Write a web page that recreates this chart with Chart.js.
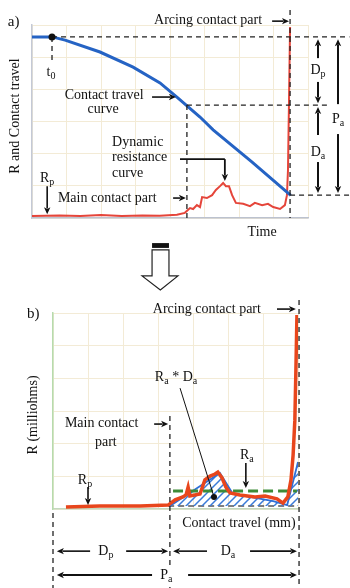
<!DOCTYPE html>
<html>
<head>
<meta charset="utf-8">
<script src="https://cdn.jsdelivr.net/npm/chart.js@4.4.1/dist/chart.umd.min.js"></script>
<style>
  html, body { margin: 0; padding: 0; background: #fff; }
  #a { position: absolute; left: 0; top: 0; }
  #b { position: absolute; left: 0; top: 292px; }
</style>
</head>
<body>
<canvas id="a" width="350" height="292"></canvas>
<canvas id="b" width="350" height="296"></canvas>
<script>
// (a) contact travel and dynamic resistance against time (arbitrary units)
var travelTime  = [0, 0.58, 0.96, 1.97, 2.93, 3.71, 4.20, 4.87, 5.25, 6.38, 7.50];
var travelValue = [5.63, 5.63, 5.53, 5.16, 4.69, 4.20, 3.76, 3.14, 2.74, 1.74, 0.70];
var resTime  = [0, 0.8, 1.4, 2.0, 2.6, 3.2, 3.7, 4.2, 4.43, 4.58, 4.67, 4.78, 4.87, 4.93, 5.07, 5.22, 5.33, 5.45,
                5.54, 5.62, 5.71, 5.80, 5.91, 6.12, 6.32, 6.46, 6.67, 6.84, 6.99, 7.19, 7.33, 7.39, 7.42, 7.45, 7.48];
var resValue = [0.06, 0.08, 0.06, 0.09, 0.06, 0.08, 0.07, 0.10, 0.16, 0.31, 0.28, 0.40, 0.34, 0.65, 0.62, 0.71, 0.87, 0.99,
                1.09, 0.99, 0.99, 0.71, 0.47, 0.44, 0.37, 0.47, 0.40, 0.44, 0.34, 0.28, 0.40, 0.71, 1.49, 3.67, 5.94];
// key instants / levels of (a)
var t0Time = 0.58, travelStart = 5.63;
var mainTime = 4.49, travelAtMain = 3.51;
var arcTime = 7.48, travelEnd = 0.71;

// (b) resistance against contact travel
var rTravel = [0.37, 1.34, 2.49, 3.29, 3.49, 3.71, 3.80, 3.86, 3.91, 4.20, 4.34, 4.49, 4.63, 4.71, 4.83, 4.94, 5.06, 5.34,
               5.77, 6.06, 6.40, 6.57, 6.71, 6.80, 6.86, 6.91, 6.94, 6.97];
var rValue  = [0.06, 0.09, 0.09, 0.12, 0.28, 0.37, 0.43, 0.67, 0.40, 0.46, 0.89, 1.01, 1.07, 1.13, 0.95, 0.67, 0.49, 0.43,
               0.37, 0.40, 0.31, 0.18, 0.37, 0.89, 1.65, 2.72, 4.25, 5.94];
var stepTravel = [3.34, 4.77, 5.14, 5.63, 6.29, 6.69, 7.0];
var stepValue  = [0.09, 1.10, 0.46, 0.37, 0.24, 0.12, 1.44];
var raTravel = [3.43, 6.97], raLevel = 0.55;
var baseTravel = [3.29, 7.0], baseLevel = 0.09;
var mainTravel = 3.34, arcTravel = 7.03;

var serif = '"Liberation Serif", "Times New Roman", serif';

function pts(xs, ys) { return xs.map(function (x, i) { return { x: x, y: ys[i] }; }); }

function seg(ctx, x1, y1, x2, y2, dash, w, col) {
  ctx.save();
  ctx.strokeStyle = col || '#222';
  ctx.lineWidth = w || 1.3;
  ctx.setLineDash(dash || []);
  ctx.beginPath(); ctx.moveTo(x1, y1); ctx.lineTo(x2, y2); ctx.stroke();
  ctx.restore();
}

function arrow(ctx, x1, y1, x2, y2, w) {
  var a = Math.atan2(y2 - y1, x2 - x1), len = 7;
  seg(ctx, x1, y1, x2 - Math.cos(a) * len * 0.8, y2 - Math.sin(a) * len * 0.8, null, w || 1.6, '#111');
  ctx.save();
  ctx.fillStyle = '#111';
  ctx.translate(x2, y2); ctx.rotate(a);
  ctx.beginPath(); ctx.moveTo(0, 0); ctx.lineTo(-len, -3.2); ctx.lineTo(-len * 0.75, 0); ctx.lineTo(-len, 3.2);
  ctx.closePath(); ctx.fill();
  ctx.restore();
}

// parts starting with "_" are subscripts
function label(ctx, parts, x, y, align, size, bg) {
  size = size || 14;
  var sub = Math.round(size * 0.68), w = 0;
  ctx.save();
  ctx.fillStyle = '#111';
  ctx.textBaseline = 'middle';
  ctx.textAlign = 'left';
  parts.forEach(function (p) {
    ctx.font = (p[0] === '_' ? sub : size) + 'px ' + serif;
    w += ctx.measureText(p[0] === '_' ? p.slice(1) : p).width;
  });
  var x0 = align === 'center' ? x - w / 2 : align === 'right' ? x - w : x;
  if (bg) {
    ctx.fillStyle = '#fff';
    ctx.fillRect(x0 - 2, y - size * 0.6, w + 4, size * 1.3);
    ctx.fillStyle = '#111';
  }
  parts.forEach(function (p) {
    var s = p[0] === '_';
    var t = s ? p.slice(1) : p;
    ctx.font = (s ? sub : size) + 'px ' + serif;
    ctx.fillText(t, x0, s ? y + size * 0.3 : y);
    x0 += ctx.measureText(t).width;
  });
  ctx.restore();
}

function vtitle(ctx, text, x, y) {
  ctx.save();
  ctx.translate(x, y); ctx.rotate(-Math.PI / 2);
  ctx.fillStyle = '#111';
  ctx.font = '14px ' + serif;
  ctx.textAlign = 'center'; ctx.textBaseline = 'middle';
  ctx.fillText(text, 0, 0);
  ctx.restore();
}

function axes(xmax, ymax, xBorder, yBorder) {
  return {
    x: { type: 'linear', min: 0, max: xmax, ticks: { display: false, stepSize: 1 },
         grid: { color: '#f3ebd6', drawTicks: false }, border: { color: xBorder, width: 1.5 } },
    y: { type: 'linear', min: 0, max: ymax, ticks: { display: false, stepSize: 1 },
         grid: { color: '#f3ebd6', drawTicks: false }, border: { color: yBorder, width: 1.5 } }
  };
}

var dash = [5, 4];

var notesA = {
  id: 'notesA',
  afterDraw: function (chart) {
    var ctx = chart.ctx;
    var X = function (v) { return chart.scales.x.getPixelForValue(v); };
    var Y = function (v) { return chart.scales.y.getPixelForValue(v); };

    seg(ctx, X(t0Time), Y(travelStart), X(9.2), Y(travelStart), dash);
    seg(ctx, X(mainTime), Y(travelAtMain), X(8.64), Y(travelAtMain), dash);
    seg(ctx, X(arcTime), Y(travelEnd), X(9.2), Y(travelEnd), dash);
    seg(ctx, X(mainTime), Y(travelAtMain), X(mainTime), Y(0), dash);
    seg(ctx, X(arcTime), Y(6.47), X(arcTime), Y(0), dash);
    seg(ctx, X(t0Time), Y(travelStart), X(t0Time), Y(4.85), dash);
    ctx.save(); ctx.fillStyle = '#111';
    ctx.beginPath(); ctx.arc(X(t0Time), Y(travelStart), 3.5, 0, Math.PI * 2); ctx.fill(); ctx.restore();

    label(ctx, ['a)'], X(-0.70), Y(6.09), 'left', 15);
    label(ctx, ['Arcing contact part'], X(6.67), Y(6.15), 'right');
    arrow(ctx, X(6.96), Y(6.12), X(7.45), Y(6.12));
    vtitle(ctx, 'R and Contact travel', X(-0.49), Y(3.17));
    label(ctx, ['t', '_0'], X(0.55), Y(4.54), 'center');

    label(ctx, ['Contact travel'], X(2.09), Y(3.82), 'center');
    label(ctx, ['curve'], X(2.06), Y(3.39), 'center');
    arrow(ctx, X(3.48), Y(3.76), X(4.17), Y(3.76));

    label(ctx, ['Dynamic'], X(2.32), Y(2.36), 'left');
    label(ctx, ['resistance'], X(2.32), Y(1.90), 'left');
    label(ctx, ['curve'], X(2.32), Y(1.40), 'left');
    seg(ctx, X(4.29), Y(1.83), X(5.59), Y(1.83), null, 1.8, '#111');
    arrow(ctx, X(5.59), Y(1.83), X(5.59), Y(1.15), 1.8);

    label(ctx, ['Main contact part'], X(0.75), Y(0.62), 'left');
    arrow(ctx, X(4.09), Y(0.62), X(4.46), Y(0.62));
    label(ctx, ['R', '_p'], X(0.23), Y(1.24), 'left');
    arrow(ctx, X(0.44), Y(0.99), X(0.44), Y(0.12));
    label(ctx, ['Time'], X(6.67), Y(-0.44), 'center');

    // D_p, D_a and P_a spans
    arrow(ctx, X(8.29), Y(4.97), X(8.29), Y(5.56), 2);
    label(ctx, ['D', '_p'], X(8.29), Y(4.60), 'center');
    arrow(ctx, X(8.29), Y(4.23), X(8.29), Y(3.57), 2);
    arrow(ctx, X(8.29), Y(2.58), X(8.29), Y(3.45), 2);
    label(ctx, ['D', '_a'], X(8.29), Y(2.05), 'center');
    arrow(ctx, X(8.29), Y(1.74), X(8.29), Y(0.78), 2);
    arrow(ctx, X(8.87), Y(3.54), X(8.87), Y(5.56), 2);
    label(ctx, ['P', '_a'], X(8.87), Y(3.08), 'center');
    arrow(ctx, X(8.87), Y(2.61), X(8.87), Y(0.78), 2);

    // block arrow leading to (b)
    ctx.save();
    ctx.fillStyle = '#111';
    ctx.fillRect(X(3.48), Y(-0.78), X(3.97) - X(3.48), Y(-0.93) - Y(-0.78));
    ctx.strokeStyle = '#222'; ctx.lineWidth = 1.2;
    ctx.beginPath();
    ctx.moveTo(X(3.48), Y(-0.99)); ctx.lineTo(X(3.48), Y(-1.80)); ctx.lineTo(X(3.19), Y(-1.80));
    ctx.lineTo(X(3.72), Y(-2.24)); ctx.lineTo(X(4.23), Y(-1.80)); ctx.lineTo(X(3.97), Y(-1.80));
    ctx.lineTo(X(3.97), Y(-0.99)); ctx.closePath(); ctx.stroke();
    ctx.restore();
  }
};

var notesB = {
  id: 'notesB',
  afterDraw: function (chart) {
    var ctx = chart.ctx;
    var X = function (v) { return chart.scales.x.getPixelForValue(v); };
    var Y = function (v) { return chart.scales.y.getPixelForValue(v); };

    seg(ctx, X(mainTravel), Y(2.85), X(mainTravel), Y(-2.45), dash);
    seg(ctx, X(arcTravel), Y(6.40), X(arcTravel), Y(-2.45), dash);
    seg(ctx, X(0), Y(-0.12), X(0), Y(-2.45), dash);

    label(ctx, ['b)'], X(-0.74), Y(5.97), 'left', 15);
    label(ctx, ['Arcing contact part'], X(5.94), Y(6.12), 'right');
    arrow(ctx, X(6.40), Y(6.12), X(6.94), Y(6.12));
    vtitle(ctx, 'R (milliohms)', X(-0.57), Y(2.88));

    label(ctx, ['R', '_a', ' * D', '_a'], X(2.91), Y(4.04), 'left');
    seg(ctx, X(3.63), Y(3.70), X(4.6), Y(0.37), null, 1, '#111');
    ctx.save(); ctx.fillStyle = '#111';
    ctx.beginPath(); ctx.arc(X(4.6), Y(0.37), 3, 0, Math.PI * 2); ctx.fill(); ctx.restore();

    label(ctx, ['Main contact'], X(0.34), Y(2.63), 'left');
    label(ctx, ['part'], X(1.51), Y(2.05), 'center');
    arrow(ctx, X(2.89), Y(2.60), X(3.29), Y(2.60));
    label(ctx, ['R', '_p'], X(0.71), Y(0.89), 'left');
    arrow(ctx, X(1.0), Y(0.67), X(1.0), Y(0.12));
    label(ctx, ['R', '_a'], X(5.34), Y(1.65), 'left');
    arrow(ctx, X(5.51), Y(1.41), X(5.51), Y(0.64));

    ctx.save();
    ctx.beginPath(); ctx.rect(0, 0, X(arcTravel), chart.height); ctx.clip();
    label(ctx, ['Contact travel (mm)'], X(3.69), Y(-0.43), 'left');
    ctx.restore();

    arrow(ctx, X(1.06), Y(-1.29), X(0.11), Y(-1.29));
    label(ctx, ['D', '_p'], X(1.51), Y(-1.29), 'center');
    arrow(ctx, X(2.09), Y(-1.29), X(3.29), Y(-1.29));
    arrow(ctx, X(4.40), Y(-1.29), X(3.43), Y(-1.29));
    label(ctx, ['D', '_a'], X(5.0), Y(-1.29), 'center');
    arrow(ctx, X(5.63), Y(-1.29), X(6.97), Y(-1.29));
    arrow(ctx, X(2.83), Y(-2.02), X(0.11), Y(-2.02), 2);
    label(ctx, ['P', '_a'], X(3.24), Y(-2.02), 'center', 14, true);
    arrow(ctx, X(3.86), Y(-2.02), X(6.97), Y(-2.02), 2);
  }
};

function hatch() {
  var c = document.createElement('canvas');
  c.width = 8; c.height = 8;
  var g = c.getContext('2d');
  g.strokeStyle = '#3a7bd8'; g.lineWidth = 1.5;
  g.beginPath();
  g.moveTo(0, 8); g.lineTo(8, 0);
  g.moveTo(-2, 2); g.lineTo(2, -2);
  g.moveTo(6, 10); g.lineTo(10, 6);
  g.stroke();
  return g.createPattern(c, 'repeat');
}

new Chart(document.getElementById('a'), {
  type: 'line',
  data: {
    datasets: [
      { data: pts(resTime, resValue), borderColor: '#e5453a', borderWidth: 2, pointRadius: 0, fill: false, order: 1 },
      { data: pts(travelTime, travelValue), borderColor: '#2563c4', borderWidth: 3, pointRadius: 0, fill: false, order: 0 }
    ]
  },
  options: {
    responsive: false,
    animation: false,
    layout: { padding: { left: 32, right: 42, top: 25, bottom: 74 } },
    scales: axes(8, 6, '#bcc2cf', '#c4c9d6'),
    plugins: { legend: { display: false }, tooltip: { enabled: false } }
  },
  plugins: [notesA]
});

new Chart(document.getElementById('b'), {
  type: 'line',
  data: {
    datasets: [
      { data: pts(rTravel, rValue), borderColor: '#e8461c', borderWidth: 3.5, pointRadius: 0, fill: false, order: 0 },
      { data: pts(raTravel, [raLevel, raLevel]), borderColor: '#3d8b37', borderWidth: 3, borderDash: [10, 5],
        pointRadius: 0, fill: false, order: 1 },
      { data: pts(stepTravel, stepValue), borderColor: '#2e6fd6', borderWidth: 1.8, pointRadius: 0,
        fill: { value: baseLevel }, backgroundColor: hatch(), order: 2 },
      { data: pts(baseTravel, [baseLevel, baseLevel]), borderColor: '#555', borderWidth: 1.5, borderDash: [6, 4],
        pointRadius: 0, fill: false, order: 3 }
    ]
  },
  options: {
    responsive: false,
    animation: false,
    layout: { padding: { left: 53, right: 52, top: 21, bottom: 79 } },
    scales: axes(7, 6, '#c3d8bd', '#b6dbad'),
    plugins: { legend: { display: false }, tooltip: { enabled: false } }
  },
  plugins: [notesB]
});
</script>
</body>
</html>
